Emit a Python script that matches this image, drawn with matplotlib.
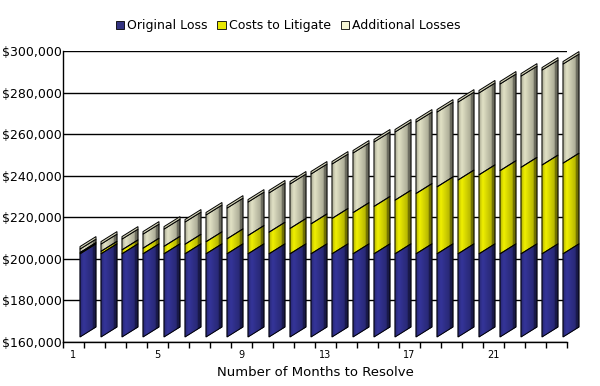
import numpy as np
import matplotlib.pyplot as plt
from matplotlib.collections import PolyCollection
from matplotlib.patches import Polygon, Patch
from matplotlib.ticker import FuncFormatter
from matplotlib.colors import to_rgb

# data
months = list(range(1, 25))
original_loss = [200000] * 24
costs_to_litigate = [600, 1200, 1900, 2700, 3600, 4600, 5800, 7200, 8800, 10400, 12200, 14400,
                     17000, 19800, 22800, 25800, 29000, 32200, 35500, 38000, 40000, 41600, 42700, 43600]
additional_losses = [1700, 3500, 5200, 6800, 8300, 10700, 12900, 14800, 16100, 18900, 21400, 24000,
                     26200, 28700, 31000, 32800, 34400, 36000, 37500, 39400, 41700, 43900, 45700, 47700]

labels = ['Original Loss', 'Costs to Litigate', 'Additional Losses']
bar_colors = ['#35359a', '#f0f000', '#e2e2c6']
legend_colors = ['#333380', '#e8e800', '#f4f4d4']
cap_color = '#d4d4b8'

fig = plt.figure(figsize=(6, 3.86), dpi=100)
ax = fig.add_axes([0.105, 0.114, 0.84, 0.754])
ax.set_xlim(0.5, 24.5)
ax.set_ylim(160000, 300000)

# pixel -> data conversion for the fake 3D look
px_x = 24 / (0.84 * 600)
px_y = 140000 / (0.754 * 386)
left_off = 6.5 * px_x
width = 16 * px_x
rise = 10 * px_y
lift = 5 * px_y
cap_h = 2.5 * px_y
n_strips = 16


def shade(t):
    return np.interp(t, [0, 0.25, 0.8, 0.81, 1], [0.72, 1.0, 0.76, 0.5, 0.45])


def draw_segment(xl, y0, y1, color):
    base = np.array(to_rgb(color))
    polys, cols = [], []
    for k in range(n_strips):
        t0, t1 = k / n_strips, (k + 1) / n_strips
        polys.append([(xl + t0 * width, y0 + t0 * rise), (xl + t1 * width, y0 + t1 * rise),
                      (xl + t1 * width, y1 + t1 * rise), (xl + t0 * width, y1 + t0 * rise)])
        cols.append(np.clip(base * shade((t0 + t1) / 2), 0, 1))
    pc = PolyCollection(polys, facecolors=cols, edgecolors=cols, linewidths=0.4, zorder=2, clip_on=False)
    ax.add_collection(pc)
    outline = [(xl, y0), (xl + width, y0 + rise), (xl + width, y1 + rise), (xl, y1)]
    ax.add_patch(Polygon(outline, closed=True, fill=False, edgecolor='black', lw=0.7, zorder=3,
                         clip_on=False))


for i, m in enumerate(months):
    xl = m + left_off
    bottom = 160000
    vals = [original_loss[i] - 160000, costs_to_litigate[i], additional_losses[i]]
    for v, c in zip(vals, bar_colors):
        draw_segment(xl, bottom + lift, bottom + v + lift, c)
        bottom += v
    yt = bottom + lift
    cap = [(xl, yt), (xl + width, yt + rise), (xl + width, yt + rise + cap_h), (xl, yt + cap_h)]
    ax.add_patch(Polygon(cap, closed=True, facecolor=cap_color, edgecolor='black', lw=0.7, zorder=3,
                         clip_on=False))

# axes styling
ax.set_yticks(range(160000, 300001, 20000))
ax.yaxis.set_major_formatter(FuncFormatter(lambda v, p: f'${v:,.0f}'))
ax.yaxis.grid(True, color='black', lw=1)
ax.set_axisbelow(True)
ax.tick_params(axis='y', length=0, pad=1, labelsize=9)

ax.set_xticks([1, 5, 9, 13, 17, 21])
ax.set_xticks(np.arange(0.5, 25, 1), minor=True)
ax.tick_params(axis='x', which='major', length=0, labelsize=7, pad=6)
ax.tick_params(axis='x', which='minor', length=4, width=1, direction='out')
ax.set_xlabel('Number of Months to Resolve', fontsize=9.5, labelpad=4)

for s in ['top', 'right']:
    ax.spines[s].set_visible(False)
for s in ['left', 'bottom']:
    ax.spines[s].set_linewidth(1)
ax.spines['bottom'].set_zorder(4)

handles = [Patch(facecolor=c, edgecolor='black', lw=0.6) for c in legend_colors]
fig.legend(handles, labels, loc='center', bbox_to_anchor=(0.48, 0.933), ncol=3, frameon=False,
           fontsize=9, handlelength=0.7, handleheight=0.7, handletextpad=0.2, columnspacing=0.8)

plt.savefig('out.png', dpi=100)
